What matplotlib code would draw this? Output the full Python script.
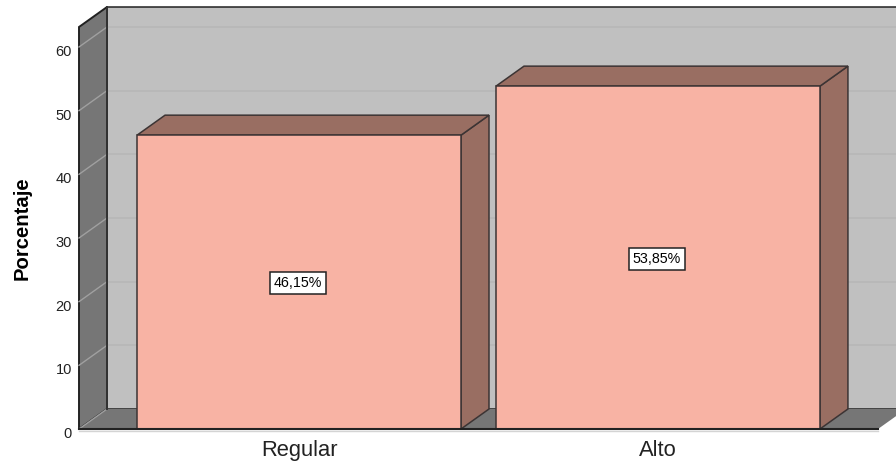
"""
Bar chart of percentage by level, drawn with a 3D box look
"""
import matplotlib
matplotlib.use('Agg')
import matplotlib.pyplot as plt
from matplotlib.patches import Polygon
from matplotlib.transforms import ScaledTranslation

categories = ['Regular', 'Alto']
percentages = [46.15, 53.85]
value_labels = ['46,15%', '53,85%']
y_ticks = [0, 10, 20, 30, 40, 50, 60]

WIDTH, HEIGHT = 896, 463
BAR_WIDTH = 0.9025
DEPTH_X = 28 / 359
DEPTH_Y = 20 / 6.367

FRONT = '#f8b3a4'
SHADE = '#996e62'
EDGE = '#3c3434'
WALL = '#c0c0c0'
SIDE = '#767676'

plt.rcParams['font.family'] = ['Liberation Sans', 'DejaVu Sans']

fig = plt.figure(figsize=(WIDTH / 100, HEIGHT / 100), dpi=100)
ax = fig.add_axes([79 / WIDTH, 1 - 429 / HEIGHT, 799 / WIDTH, 402 / HEIGHT])
ax.set_xlim(-0.613, 1.613)
ax.set_ylim(0, 63.14)
ax.patch.set_visible(False)
for spine in ax.spines.values():
    spine.set_visible(False)

x0, x1 = ax.get_xlim()
y0, y1 = ax.get_ylim()


def face(points, color, edge=EDGE, lw=1.1, z=1):
    ax.add_patch(Polygon(points, closed=True, facecolor=color, edgecolor=edge,
                         linewidth=lw, clip_on=False, zorder=z))


# back wall, left wall and floor
face([(x0 + DEPTH_X, y0 + DEPTH_Y), (x1 + 2 * DEPTH_X, y0 + DEPTH_Y),
      (x1 + 2 * DEPTH_X, y1 + DEPTH_Y), (x0 + DEPTH_X, y1 + DEPTH_Y)], WALL, edge='#222222')
face([(x0, y0), (x0 + DEPTH_X, y0 + DEPTH_Y), (x0 + DEPTH_X, y1 + DEPTH_Y), (x0, y1)], SIDE,
     edge='#222222', lw=1.4)
face([(x0, y0), (x1, y0), (x1 + DEPTH_X, y0 + DEPTH_Y), (x0 + DEPTH_X, y0 + DEPTH_Y)], SIDE, edge='none')

# gridlines run along the left wall and then across the back wall
for tick in y_ticks:
    ax.plot([x0, x0 + DEPTH_X], [tick, tick + DEPTH_Y], color='#a0a0a0', lw=1,
            clip_on=False, zorder=2)
    if tick > 0:
        ax.plot([x0 + DEPTH_X, x1 + 2 * DEPTH_X], [tick + DEPTH_Y, tick + DEPTH_Y],
                color='#b6b6b6', lw=1.1, clip_on=False, zorder=2)

# redraw the back corner so the gridlines sit behind it
ax.plot([x0 + DEPTH_X, x0 + DEPTH_X], [y0 + DEPTH_Y, y1 + DEPTH_Y], color='#333333', lw=1.4,
        clip_on=False, zorder=3)

label_shift = ScaledTranslation(0, -1 / 100, fig.dpi_scale_trans)
for i, value in enumerate(percentages):
    left, right = i - BAR_WIDTH / 2, i + BAR_WIDTH / 2
    face([(right, 0), (right + DEPTH_X, DEPTH_Y), (right + DEPTH_X, value + DEPTH_Y), (right, value)],
         SHADE, z=4)
    face([(left, value), (right, value), (right + DEPTH_X, value + DEPTH_Y),
          (left + DEPTH_X, value + DEPTH_Y)], SHADE, z=4)
    ax.bar(i, value, width=BAR_WIDTH, color=FRONT, edgecolor=EDGE, linewidth=1.1, zorder=5)
    ax.text(i - 0.003, value / 2, value_labels[i], ha='center', va='center', fontsize=10.3, color='black',
            zorder=6, transform=ax.transData + label_shift,
            bbox=dict(boxstyle='square,pad=0.28', facecolor='white',
                      edgecolor='#222222', linewidth=1.1))

# front floor edge
ax.plot([x0, x1], [0, 0], color='#222222', lw=1.5, clip_on=False, zorder=5.5)
ax.plot([x0, x1], [-0.25, -0.25], color='#d4d4d4', lw=1, clip_on=False, zorder=1)

ax.set_xticks(range(len(categories)))
ax.set_xticklabels(categories, fontsize=15.8, color='#222222')
ax.set_yticks(y_ticks)
ax.tick_params(axis='x', length=0, pad=8)
ax.tick_params(axis='y', length=0, pad=5, labelsize=10.5, labelcolor='#222222')

# y tick labels sit a little below their gridline
tick_shift = ScaledTranslation(0, -5 / 100, fig.dpi_scale_trans)
for label in ax.get_yticklabels():
    label.set_verticalalignment('center')
    label.set_transform(label.get_transform() + tick_shift)

ax.set_ylabel('Porcentaje', fontsize=14.6, fontweight='bold', color='black', labelpad=17)

fig.savefig('out.png', dpi=100)
